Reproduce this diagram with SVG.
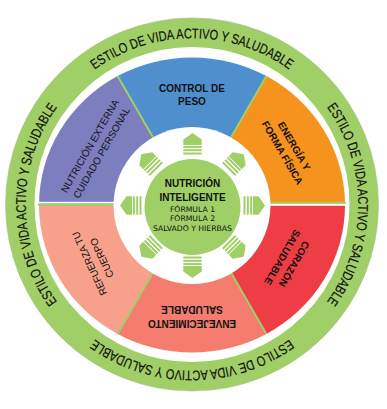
<svg xmlns="http://www.w3.org/2000/svg" xmlns:xlink="http://www.w3.org/1999/xlink" width="387" height="409" viewBox="0 0 387 409">
<style>
.seg{stroke:none}
.sep{stroke:#9fcf67;stroke-width:2;fill:none}
.lbl{font-family:"Liberation Sans",Arial,sans-serif;font-size:10px;fill:#111;text-anchor:middle}
.b{font-weight:bold}
.ring{font-family:"Liberation Sans",Arial,sans-serif;font-size:14px;fill:#111;stroke:#111;stroke-width:0.2;text-anchor:middle}
.ctr{font-family:"Liberation Sans",Arial,sans-serif;font-size:10px;font-weight:bold;fill:#111;text-anchor:middle}
.sub{font-family:"DejaVu Sans",Verdana,sans-serif;font-size:7.7px;fill:#111;text-anchor:middle}
.arrow{fill:#a0cf67}
</style>
<defs>
<path id="ringpath" d="M74.5,322 A166,166 0 1,1 309.5,87 A166,166 0 1,1 74.5,322"/>
<g id="arr">
<polygon points="0,-72.5 9.2,-66 9.2,-60.5 -9.2,-60.5 -9.2,-66"/>
<rect x="-9.2" y="-59.6" width="18.4" height="2"/>
<rect x="-9.2" y="-56.3" width="18.4" height="2"/>
<rect x="-9.2" y="-53" width="18.4" height="2"/>
</g>
</defs>
<rect x="0" y="0" width="387" height="409" fill="#ffffff"/>
<g id="outer-ring">
<circle cx="192" cy="204.5" r="186.5" fill="none" stroke="#cfcfcf" stroke-width="1"/>
<circle cx="192" cy="204.5" r="172" fill="none" stroke="#a0cf67" stroke-width="29"/>
<text class="ring"><textPath xlink:href="#ringpath" href="#ringpath" startOffset="12.5%" textLength="208" lengthAdjust="spacingAndGlyphs">ESTILO DE VIDA ACTIVO Y SALUDABLE</textPath></text>
<text class="ring"><textPath xlink:href="#ringpath" href="#ringpath" startOffset="37.5%" textLength="208" lengthAdjust="spacingAndGlyphs">ESTILO DE VIDA ACTIVO Y SALUDABLE</textPath></text>
<text class="ring"><textPath xlink:href="#ringpath" href="#ringpath" startOffset="62.5%" textLength="208" lengthAdjust="spacingAndGlyphs">ESTILO DE VIDA ACTIVO Y SALUDABLE</textPath></text>
<text class="ring"><textPath xlink:href="#ringpath" href="#ringpath" startOffset="87.5%" textLength="208" lengthAdjust="spacingAndGlyphs">ESTILO DE VIDA ACTIVO Y SALUDABLE</textPath></text>
</g>
<g id="seg-control-peso">
<path class="seg" fill="#4f8fcd" d="M192,205 L117.6,76.1 A153,147.5 0 0,1 266.4,76.1 Z"/>
</g>
<g id="seg-energia">
<path class="seg" fill="#f6921e" d="M192,205 L266.4,76.1 A153,147.5 0 0,1 345,205 Z"/>
</g>
<g id="seg-corazon">
<path class="seg" fill="#ee3d45" d="M192,205 L345,205 A153,147.5 0 0,1 266.4,333.9 Z"/>
</g>
<g id="seg-envejecimiento">
<path class="seg" fill="#f47d70" d="M192,205 L266.4,333.9 A153,147.5 0 0,1 117.6,333.9 Z"/>
</g>
<g id="seg-refuerza">
<path class="seg" fill="#f7a18d" d="M192,205 L117.6,333.9 A153,147.5 0 0,1 39,205 Z"/>
</g>
<g id="seg-nutricion-externa">
<path class="seg" fill="#7c7ebe" d="M192,205 L39,205 A153,147.5 0 0,1 117.6,76.1 Z"/>
</g>
<g id="connectors">
<line class="sep" x1="192" y1="205" x2="117.6" y2="76.1"/>
<line class="sep" x1="192" y1="205" x2="266.4" y2="76.1"/>
<line class="sep" x1="192" y1="205" x2="266.4" y2="333.9"/>
<line class="sep" x1="192" y1="205" x2="117.6" y2="333.9"/>
<rect x="38" y="201.8" width="80" height="1.8" fill="#ffffff"/>
<rect x="38" y="203.6" width="80" height="2.2" fill="#9fcf67"/>
<rect x="266" y="201.8" width="80" height="2" fill="#9fcf67"/>
<rect x="266" y="203.8" width="80" height="2" fill="#ffffff"/>
</g>
<g id="labels">
<g transform="translate(192,95)"><text class="lbl b" y="-3.5">CONTROL DE</text><text class="lbl b" y="10">PESO</text></g>
<g transform="translate(288.1,149.5) rotate(60)"><text class="lbl b" y="-3.5">ENERGÍA Y</text><text class="lbl b" y="10">FORMA FÍSICA</text></g>
<g transform="translate(288.1,260.5) rotate(120)"><text class="lbl b" y="-3.5">CORAZÓN</text><text class="lbl b" y="10">SALUDABLE</text></g>
<g transform="translate(192,316) rotate(180)"><text class="lbl b" y="-3.5">ENVEJECIMIENTO</text><text class="lbl b" y="10">SALUDABLE</text></g>
<g transform="translate(95.9,260.5) rotate(245)"><text class="lbl" y="-3.5">REFUERZA TU</text><text class="lbl" y="10">CUERPO</text></g>
<g transform="translate(95.9,149.5) rotate(300)"><text class="lbl" y="-3.5">NUTRICIÓN EXTERNA</text><text class="lbl" y="10">CUIDADO PERSONAL</text></g>
</g>
<g id="center">
<circle cx="192" cy="205.5" r="78.5" fill="#ffffff"/>
<g class="arrow">
<use href="#arr" xlink:href="#arr" transform="translate(192.5,205.5)"/>
<use href="#arr" xlink:href="#arr" transform="translate(192.5,205.5) rotate(45)"/>
<use href="#arr" xlink:href="#arr" transform="translate(192.5,205.5) rotate(90)"/>
<use href="#arr" xlink:href="#arr" transform="translate(192.5,205.5) rotate(135)"/>
<use href="#arr" xlink:href="#arr" transform="translate(192.5,205.5) rotate(180)"/>
<use href="#arr" xlink:href="#arr" transform="translate(192.5,205.5) rotate(225)"/>
<use href="#arr" xlink:href="#arr" transform="translate(192.5,205.5) rotate(270)"/>
<use href="#arr" xlink:href="#arr" transform="translate(192.5,205.5) rotate(315)"/>
</g>
<circle cx="192.5" cy="207" r="48" fill="#a0cf67"/>
<text class="ctr" x="192.5" y="187.3">NUTRICIÓN</text>
<text class="ctr" x="192.5" y="200.9">INTELIGENTE</text>
<text class="sub" x="192.5" y="211.7">FÓRMULA 1</text>
<text class="sub" x="192.5" y="220.7">FÓRMULA 2</text>
<text class="sub" x="192.5" y="230.7">SALVADO Y HIERBAS</text>
</g>
</svg>
